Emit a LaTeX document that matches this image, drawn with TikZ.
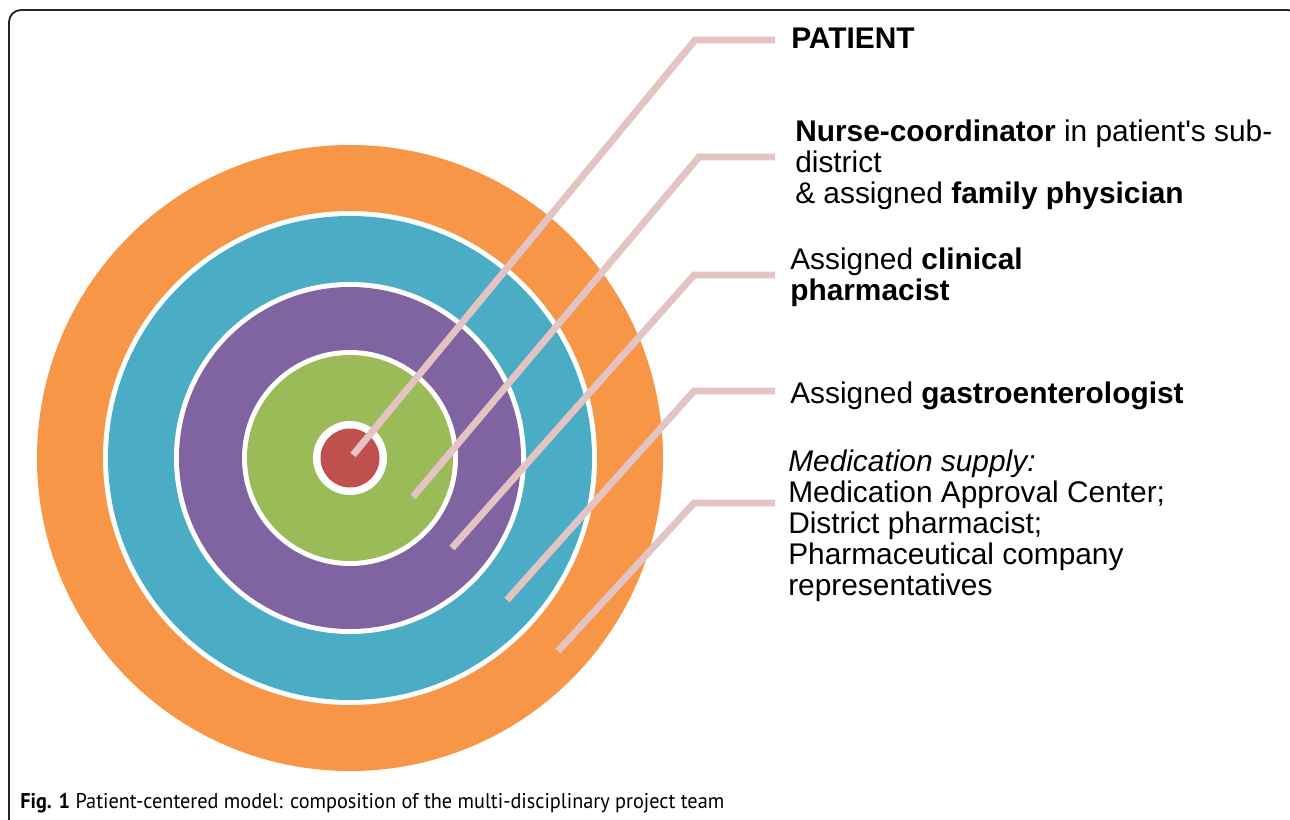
\documentclass[tikz,border=0pt]{standalone}
\usepackage{fontspec}
\setmainfont{Liberation Sans}[Ligatures=TeXOff]
\newfontfamily\capfont{PT Sans}
\definecolor{ringorange}{HTML}{F79646}
\definecolor{ringteal}{HTML}{4BACC6}
\definecolor{ringpurple}{HTML}{8064A2}
\definecolor{ringgreen}{HTML}{9BBB59}
\definecolor{ringred}{HTML}{C0504D}
\definecolor{connpink}{HTML}{E4C3C3}
\begin{document}
\begin{tikzpicture}[x=0.75pt,y=-0.75pt,
  conn/.style={draw=connpink,line width=5.2pt,line join=miter},
  lab/.style={anchor=north west,inner sep=0pt,align=left,font=\fontsize{22.4}{23.2}\selectfont},
  gap/.style={fill=white}]
\useasboundingbox (0,0) rectangle (1290,820);
\begin{scope}
\clip (0,0) rectangle (1290,820);
\draw[line width=1.4pt,black!85,rounded corners=9pt] (9,10) rectangle (1300,832);
\end{scope}
% rings
\coordinate (c) at (350,458);
\fill[ringorange] (c) circle (313);
\fill[gap] (c) circle (247);
\fill[ringteal] (c) circle (242);
\fill[gap] (c) circle (176);
\fill[ringpurple] (c) circle (171);
\fill[gap] (c) circle (108);
\fill[ringgreen] (c) circle (103);
\fill[gap] (c) circle (37);
\fill[ringred] (c) circle (29.5);
% connector points
\coordinate (e1) at (353,455); \coordinate (b1) at (695,40);  \coordinate (t1) at (775,40);
\coordinate (e2) at (413,497); \coordinate (b2) at (699,157); \coordinate (t2) at (775,157);
\coordinate (e3) at (452,548); \coordinate (b3) at (694,275); \coordinate (t3) at (775,275);
\coordinate (e4) at (507,600); \coordinate (b4) at (694,391); \coordinate (t4) at (775,391);
\coordinate (e5) at (558,651); \coordinate (b5) at (694,503); \coordinate (t5) at (775,503);
\draw[conn] (e1) -- (b1) -- (t1);
\draw[conn] (e2) -- (b2) -- (t2);
\draw[conn] (e3) -- (b3) -- (t3);
\draw[conn] (e4) -- (b4) -- (t4);
\draw[conn] (e5) -- (b5) -- (t5);
% labels
\node[lab] (l1) at (791,28) {\textbf{PATIENT}};
\node[lab] (l2) at (795,120) {\textbf{Nurse-coordinator} in patient's sub-\\district\\\& assigned \textbf{family physician}};
\node[lab] (l3) at (790,248) {Assigned \textbf{clinical}\\\textbf{pharmacist}};
\node[lab] (l4) at (790,382) {Assigned \textbf{gastroenterologist}};
\node[lab] (l5) at (788,450) {\textit{Medication supply:}\\Medication Approval Center;\\District pharmacist;\\Pharmaceutical company\\representatives};
% caption
\node[anchor=base west,inner sep=0pt,font=\capfont\fontsize{16}{18}\selectfont] (cap) at (20,808) {\scalebox{0.95}[1]{\textbf{Fig. 1} Patient-centered model: composition of the multi-disciplinary project team}};
\end{tikzpicture}
\end{document}
